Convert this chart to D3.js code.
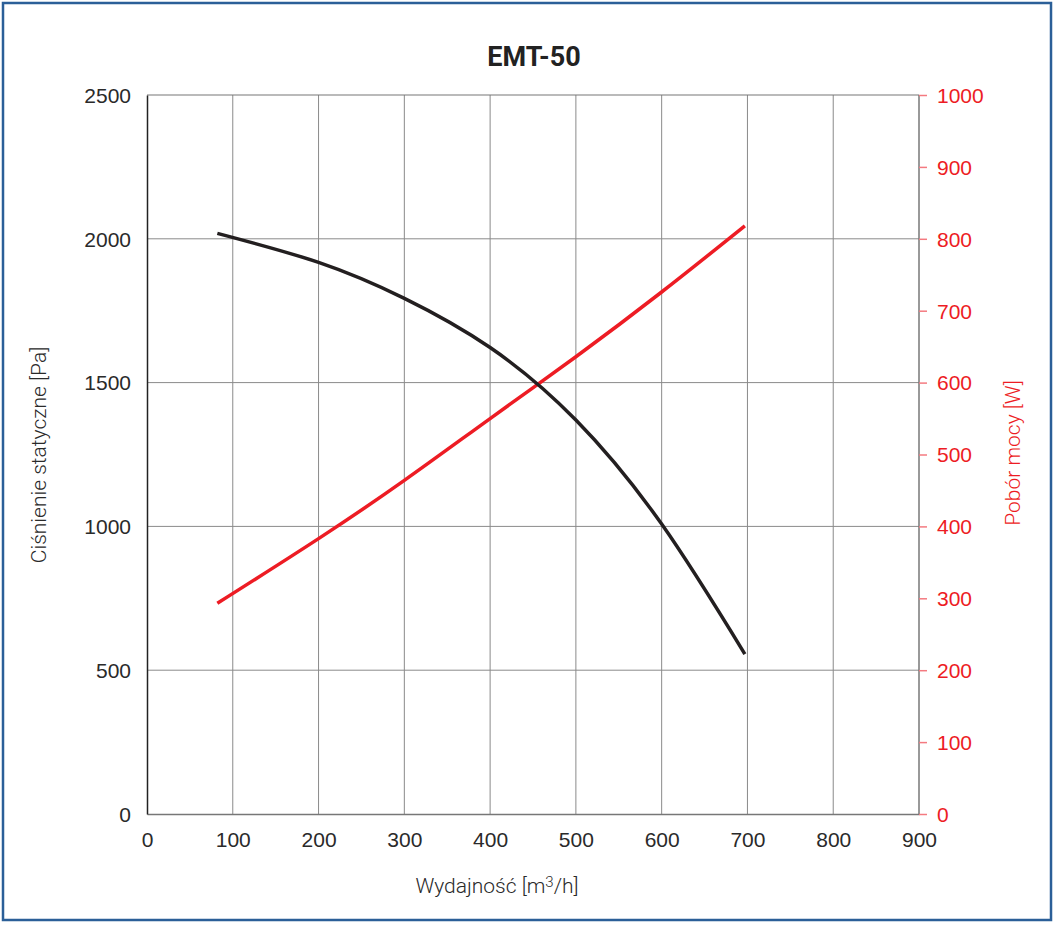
<!DOCTYPE html>
<html>
<head>
<meta charset="utf-8">
<script src="https://cdn.jsdelivr.net/npm/d3@7"></script>
<style>
  body { margin: 0; background: #fff; }
  svg { display: block; font-family: Roboto, "Liberation Sans", sans-serif; }
</style>
</head>
<body>
<script>
// values
const title = 'EMT-50';
const pressureFlow = [82, 200, 300, 400, 500, 600, 697];                    // m3/h
const pressure = [2019, 1918, 1793, 1622, 1370, 1008, 556];                 // Pa
const powerFlow = [82, 200, 300, 400, 500, 600, 697];                       // m3/h
const power = [293, 383, 464, 550, 636, 726, 818];                          // W
const xTicks = [0, 100, 200, 300, 400, 500, 600, 700, 800, 900];
const leftTicks = [0, 500, 1000, 1500, 2000, 2500];
const rightTicks = [0, 100, 200, 300, 400, 500, 600, 700, 800, 900, 1000];

const width = 1055, height = 925;
const margin = { top: 95, right: 136, bottom: 111, left: 147 };
const w = width - margin.left - margin.right;
const h = height - margin.top - margin.bottom;
const red = '#ed1c24';
const fmt = d3.format('d');

const svg = d3.select('body')
  .append('svg')
  .attr('width', width)
  .attr('height', height);

// blue frame
svg.append('rect')
  .attr('x', 3).attr('y', 3)
  .attr('width', 1048).attr('height', 917)
  .attr('fill', 'none')
  .attr('stroke', '#2b5f98')
  .attr('stroke-width', 2.5);

const g = svg.append('g')
  .attr('transform', `translate(${margin.left}, ${margin.top})`);

const xScale = d3.scaleLinear().domain([0, 900]).range([0, w]);
const yLeft = d3.scaleLinear().domain([0, 2500]).range([h, 0]);
const yRight = d3.scaleLinear().domain([0, 1000]).range([h, 0]);

// grid
g.append('g')
  .selectAll('line')
  .data(xTicks.slice(1, -1))
  .join('line')
  .attr('x1', d => xScale(d)).attr('x2', d => xScale(d))
  .attr('y1', 0).attr('y2', h)
  .attr('stroke', '#8a8a8a').attr('stroke-width', 1);

g.append('g')
  .selectAll('line')
  .data(leftTicks.slice(1, -1))
  .join('line')
  .attr('x1', 0).attr('x2', w)
  .attr('y1', d => yLeft(d)).attr('y2', d => yLeft(d))
  .attr('stroke', '#8a8a8a').attr('stroke-width', 1);

// frame of the plot
g.append('line').attr('x1', 0).attr('x2', w).attr('y1', 0).attr('y2', 0)
  .attr('stroke', '#777').attr('stroke-width', 1.2);
g.append('line').attr('x1', w).attr('x2', w).attr('y1', 0).attr('y2', h)
  .attr('stroke', '#777').attr('stroke-width', 1.5);

// axes
const xAxis = d3.axisBottom(xScale).tickValues(xTicks).tickFormat(fmt).tickSize(0).tickPadding(18);
const leftAxis = d3.axisLeft(yLeft).tickValues(leftTicks).tickFormat(fmt).tickSize(0).tickPadding(16);
const rightAxis = d3.axisRight(yRight).tickValues(rightTicks).tickFormat(fmt).tickSize(8).tickPadding(10);

const gx = g.append('g')
  .attr('class', 'x axis')
  .attr('transform', `translate(0,${h})`)
  .call(xAxis);
gx.select('.domain').attr('stroke', '#777').attr('stroke-width', 1.5);
gx.selectAll('text').attr('font-size', 21).attr('fill', '#2a2a2a').attr('font-weight', 300);

const gl = g.append('g')
  .attr('class', 'y axis')
  .call(leftAxis);
gl.select('.domain').attr('stroke', '#222').attr('stroke-width', 1.5);
gl.selectAll('text').attr('font-size', 21).attr('fill', '#2a2a2a').attr('font-weight', 300)
  .attr('dy', '0.35em');

const gr = g.append('g')
  .attr('class', 'y2 axis')
  .attr('transform', `translate(${w},0)`)
  .call(rightAxis);
gr.select('.domain').remove();
gr.selectAll('line').attr('stroke', '#f47a80').attr('stroke-width', 1.5);
gr.selectAll('text').attr('font-size', 21).attr('fill', red).attr('font-weight', 300)
  .attr('dy', '0.35em');

// curves
const pressureLine = d3.line()
  .x((d, i) => xScale(pressureFlow[i]))
  .y(d => yLeft(d))
  .curve(d3.curveNatural);

const powerLine = d3.line()
  .x((d, i) => xScale(powerFlow[i]))
  .y(d => yRight(d))
  .curve(d3.curveNatural);

g.append('path')
  .attr('class', 'line power')
  .attr('d', powerLine(power))
  .style('fill', 'none')
  .style('stroke', red)
  .style('stroke-width', 3.5);

g.append('path')
  .attr('class', 'line pressure')
  .attr('d', pressureLine(pressure))
  .style('fill', 'none')
  .style('stroke', '#231f20')
  .style('stroke-width', 3.5);

// titles
svg.append('text')
  .attr('x', 534).attr('y', 66)
  .attr('text-anchor', 'middle')
  .attr('font-size', 27)
  .attr('font-weight', 700)
  .attr('fill', '#222')
  .text(title);

const xTitle = svg.append('text')
  .attr('x', 497).attr('y', 893)
  .attr('text-anchor', 'middle')
  .attr('font-size', 21)
  .attr('font-weight', 300)
  .attr('fill', '#2a2a2a');
xTitle.append('tspan').text('Wydajność [m');
xTitle.append('tspan').attr('dy', -6).attr('font-size', 15).text('3');
xTitle.append('tspan').attr('dy', 6).text('/h]');

svg.append('text')
  .attr('transform', 'translate(46,455) rotate(-90)')
  .attr('text-anchor', 'middle')
  .attr('font-size', 21)
  .attr('font-weight', 300)
  .attr('fill', '#2a2a2a')
  .text('Ciśnienie statyczne [Pa]');

svg.append('text')
  .attr('transform', 'translate(1020,453) rotate(-90)')
  .attr('text-anchor', 'middle')
  .attr('font-size', 21)
  .attr('font-weight', 300)
  .attr('fill', red)
  .text('Pobór mocy [W]');
</script>
</body>
</html>
